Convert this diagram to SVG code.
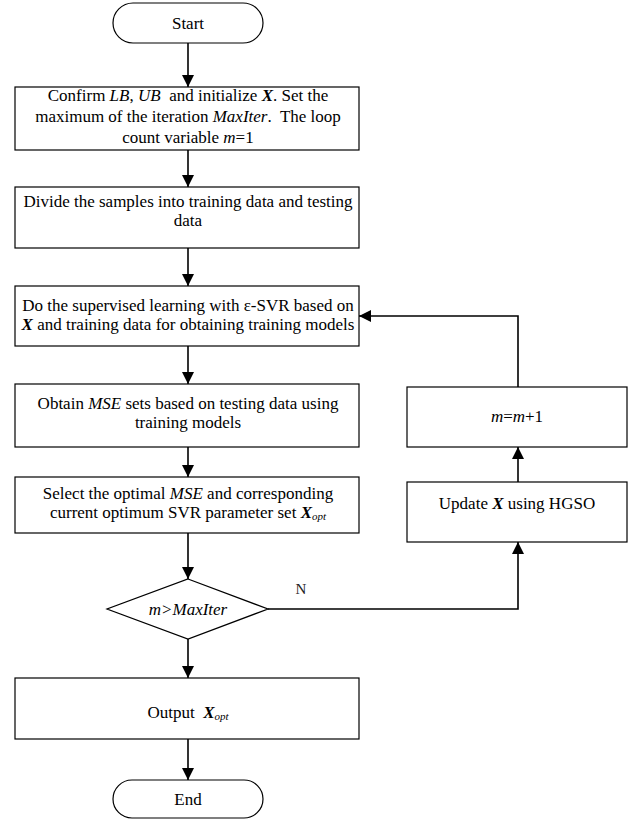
<svg xmlns="http://www.w3.org/2000/svg" width="635" height="821" viewBox="0 0 635 821">
<style>
.box{fill:#fff;stroke:#000;stroke-width:1.2}
.t{font-family:"Liberation Serif","Times New Roman",serif;font-size:17px;fill:#000;text-anchor:middle}
.i{font-style:italic}
.b{font-weight:bold;font-style:italic}
.s{font-size:11px}
.c{fill:none;stroke:#000;stroke-width:1.6}
</style>
<defs>
<marker id="ah" markerWidth="12" markerHeight="12" viewBox="0 0 12 12" refX="12" refY="6" orient="auto" markerUnits="userSpaceOnUse">
<path d="M0,0 L12,6 L0,12 Z" fill="#000"/>
</marker>
</defs>
<rect width="635" height="821" fill="#fff"/>
<g id="connectors">
<line class="c" x1="188" y1="43" x2="188" y2="87" marker-end="url(#ah)"/>
<line class="c" x1="188" y1="150" x2="188" y2="187" marker-end="url(#ah)"/>
<line class="c" x1="188" y1="248" x2="188" y2="286" marker-end="url(#ah)"/>
<line class="c" x1="188" y1="346" x2="188" y2="384" marker-end="url(#ah)"/>
<line class="c" x1="188" y1="447" x2="188" y2="477" marker-end="url(#ah)"/>
<line class="c" x1="188" y1="533" x2="188" y2="579" marker-end="url(#ah)"/>
<line class="c" x1="188" y1="639" x2="188" y2="678" marker-end="url(#ah)"/>
<line class="c" x1="188" y1="739" x2="188" y2="780" marker-end="url(#ah)"/>
<polyline class="c" points="268,609 518,609 518,542" marker-end="url(#ah)"/>
<line class="c" x1="518" y1="482" x2="518" y2="447" marker-end="url(#ah)"/>
<polyline class="c" points="518,387 518,316 359,316" marker-end="url(#ah)"/>
<text class="t" x="301" y="594" style="font-size:15px;font-weight:normal;fill:#222">N</text>
</g>
<g id="start">
<rect class="box" x="113" y="3" width="150" height="40" rx="20"/>
<text class="t" x="188" y="29">Start</text>
</g>
<g id="init">
<rect class="box" x="15" y="87" width="344" height="63"/>
<text class="t" x="188" y="101" xml:space="preserve">Confirm <tspan class="i">LB</tspan>, <tspan class="i">UB</tspan>  and initialize <tspan class="b">X</tspan>. Set the</text>
<text class="t" x="188" y="122" xml:space="preserve">maximum of the iteration <tspan class="i">MaxIter</tspan>.  The loop</text>
<text class="t" x="188" y="143">count variable <tspan class="i">m</tspan>=1</text>
</g>
<g id="divide">
<rect class="box" x="15" y="187" width="344" height="61"/>
<text class="t" x="188" y="207">Divide the samples into training data and testing</text>
<text class="t" x="188" y="226">data</text>
</g>
<g id="learn">
<rect class="box" x="15" y="286" width="344" height="60"/>
<text class="t" x="188" y="311">Do the supervised learning with ε-SVR based on</text>
<text class="t" x="188" y="330"><tspan class="b">X</tspan> and training data for obtaining training models</text>
</g>
<g id="mse">
<rect class="box" x="15" y="384" width="344" height="63"/>
<text class="t" x="188" y="409">Obtain <tspan class="i">MSE</tspan> sets based on testing data using</text>
<text class="t" x="188" y="428">training models</text>
</g>
<g id="select">
<rect class="box" x="15" y="477" width="344" height="56"/>
<text class="t" x="188" y="499">Select the optimal <tspan class="i">MSE</tspan> and corresponding</text>
<text class="t" x="188" y="518">current optimum SVR parameter set <tspan class="b">X</tspan><tspan class="i s" dy="2">opt</tspan></text>
</g>
<g id="decision">
<polygon class="box" points="188,579 268,609 188,639 107,609"/>
<text class="t i" x="188" y="615">m&gt;MaxIter</text>
</g>
<g id="output">
<rect class="box" x="15" y="678" width="344" height="61"/>
<text class="t" x="188" y="718" xml:space="preserve">Output  <tspan class="b">X</tspan><tspan class="i s" dy="2">opt</tspan></text>
</g>
<g id="end">
<rect class="box" x="113" y="780" width="150" height="38" rx="19"/>
<text class="t" x="188" y="805">End</text>
</g>
<g id="update">
<rect class="box" x="407" y="482" width="220" height="60"/>
<text class="t" x="517" y="509">Update <tspan class="b">X</tspan> using HGSO</text>
</g>
<g id="increment">
<rect class="box" x="407" y="387" width="220" height="60"/>
<text class="t" x="517" y="422"><tspan class="i">m</tspan>=<tspan class="i">m</tspan>+1</text>
</g>
</svg>
